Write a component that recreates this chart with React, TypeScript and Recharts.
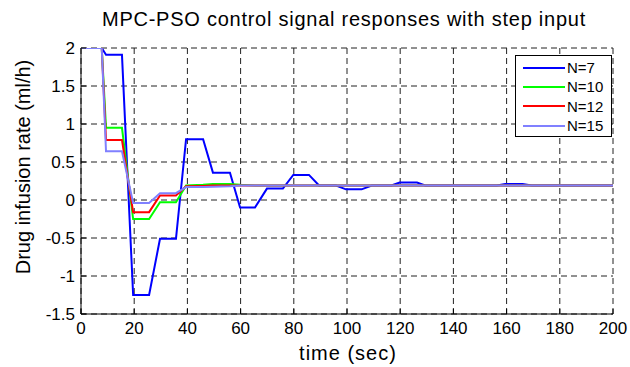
import React from "react";
import { LineChart, Line, XAxis, YAxis, CartesianGrid } from "recharts";

// break points of the control signal (sec)
const times = [
  0, 7.8, 9.4, 15.4, 19.6, 25.6, 29.7, 35.7, 39.5, 45.9, 49.6, 56, 59.8, 65.4,
  69.9, 75.9, 79.8, 85.7, 89.5, 95.9, 99.6, 105.5, 109.3, 116.7, 119.8, 126.3,
  129.4, 156.3, 159.5, 166, 169.5, 200,
];

const n7 = [
  2, 2, 1.91, 1.91, -1.25, -1.25, -0.51, -0.51, 0.8, 0.8, 0.36, 0.36, -0.1,
  -0.1, 0.15, 0.15, 0.33, 0.33, 0.19, 0.19, 0.14, 0.14, 0.19, 0.19, 0.23, 0.23,
  0.19, 0.19, 0.21, 0.21, 0.19, 0.19,
];
const n10 = [
  2, 2, 0.95, 0.95, -0.25, -0.25, -0.03, -0.03, 0.19, 0.2, 0.21, 0.21, 0.2,
  0.19, 0.19, 0.19, 0.19, 0.19, 0.19, 0.19, 0.19, 0.19, 0.19, 0.19, 0.19, 0.19,
  0.19, 0.19, 0.19, 0.19, 0.19, 0.19,
];
const n12 = [
  2, 2, 0.79, 0.79, -0.16, -0.16, 0.06, 0.06, 0.18, 0.185, 0.19, 0.19, 0.19,
  0.19, 0.19, 0.19, 0.19, 0.19, 0.19, 0.19, 0.19, 0.19, 0.19, 0.19, 0.19, 0.19,
  0.19, 0.19, 0.19, 0.19, 0.19, 0.19,
];
const n15 = [
  2, 2, 0.64, 0.64, -0.04, -0.04, 0.09, 0.09, 0.17, 0.17, 0.175, 0.18, 0.19,
  0.19, 0.19, 0.19, 0.19, 0.19, 0.19, 0.19, 0.19, 0.19, 0.19, 0.19, 0.19, 0.19,
  0.19, 0.19, 0.19, 0.19, 0.19, 0.19,
];

const xTicks = [0, 20, 40, 60, 80, 100, 120, 140, 160, 180, 200];
const yTicks = [-1.5, -1, -0.5, 0, 0.5, 1, 1.5, 2];

const series = [
  { key: "n7", name: "N=7", color: "#0000FF" },
  { key: "n10", name: "N=10", color: "#00FF00" },
  { key: "n12", name: "N=12", color: "#FF0000" },
  { key: "n15", name: "N=15", color: "#8080FF" },
];

const data = times.map((t, i) => ({
  t,
  n7: n7[i],
  n10: n10[i],
  n12: n12[i],
  n15: n15[i],
}));

const FONT = "Arial, 'Liberation Sans', sans-serif";
const tickStyle = { fontSize: 17, fill: "#000", fontFamily: FONT };

// MATLAB style legend box, drawn over the plot
function LegendBox() {
  return (
    <div
      style={{
        position: "absolute",
        left: 515,
        top: 55,
        width: 97,
        height: 82,
        border: "1px solid #000",
        background: "#fff",
        boxSizing: "border-box",
        paddingTop: 2,
        fontFamily: FONT,
        fontSize: 15,
      }}
    >
      {series.map((s) => (
        <div
          key={s.key}
          style={{ display: "flex", alignItems: "center", height: 19.3 }}
        >
          <div
            style={{
              width: 42,
              height: 2,
              marginLeft: 7,
              marginRight: 2,
              background: s.color,
            }}
          />
          <span>{s.name}</span>
        </div>
      ))}
    </div>
  );
}

export default function App() {
  return (
    <div
      style={{
        position: "absolute",
        left: 0,
        top: 0,
        width: 630,
        height: 367,
        background: "#fff",
        fontFamily: FONT,
      }}
    >
      <div
        style={{
          position: "absolute",
          left: 0,
          width: 688,
          top: 8,
          textAlign: "center",
          fontSize: 20,
          lineHeight: "22px",
          letterSpacing: 0.75,
        }}
      >
        MPC-PSO control signal responses with step input
      </div>
      <div
        style={{
          position: "absolute",
          left: 0,
          width: 696,
          top: 342,
          textAlign: "center",
          fontSize: 20,
          lineHeight: "22px",
          letterSpacing: 1,
        }}
      >
        time (sec)
      </div>
      <div
        style={{
          position: "absolute",
          left: 23,
          top: 167,
          transform: "translate(-50%, -50%) rotate(-90deg)",
          whiteSpace: "nowrap",
          fontSize: 20,
        }}
      >
        Drug infusion rate (ml/h)
      </div>

      <LineChart
        width={630}
        height={367}
        data={data}
        margin={{ top: 48, right: 17, bottom: 23, left: 21 }}
      >
        <CartesianGrid stroke="#222" strokeDasharray="6 4" />
        <XAxis
          dataKey="t"
          type="number"
          domain={[0, 200]}
          ticks={xTicks}
          interval={0}
          height={30}
          tickSize={-5}
          tickMargin={13}
          tick={tickStyle}
          stroke="#000"
          allowDataOverflow
        />
        <XAxis
          xAxisId="top"
          orientation="top"
          dataKey="t"
          type="number"
          domain={[0, 200]}
          ticks={xTicks}
          height={0}
          tickSize={-5}
          tickFormatter={() => ""}
          stroke="#000"
        />
        <YAxis
          type="number"
          domain={[-1.5, 2]}
          ticks={yTicks}
          interval={0}
          width={60}
          tickSize={-5}
          tickMargin={11}
          tick={tickStyle}
          stroke="#000"
          allowDataOverflow
        />
        <YAxis
          yAxisId="right"
          orientation="right"
          type="number"
          domain={[-1.5, 2]}
          ticks={yTicks}
          width={0}
          tickSize={-5}
          tickFormatter={() => ""}
          stroke="#000"
        />
        {series.map((s) => (
          <Line
            key={s.key}
            type="linear"
            dataKey={s.key}
            name={s.name}
            stroke={s.color}
            strokeWidth={2}
            dot={false}
            isAnimationActive={false}
          />
        ))}
      </LineChart>
      <LegendBox />
    </div>
  );
}
